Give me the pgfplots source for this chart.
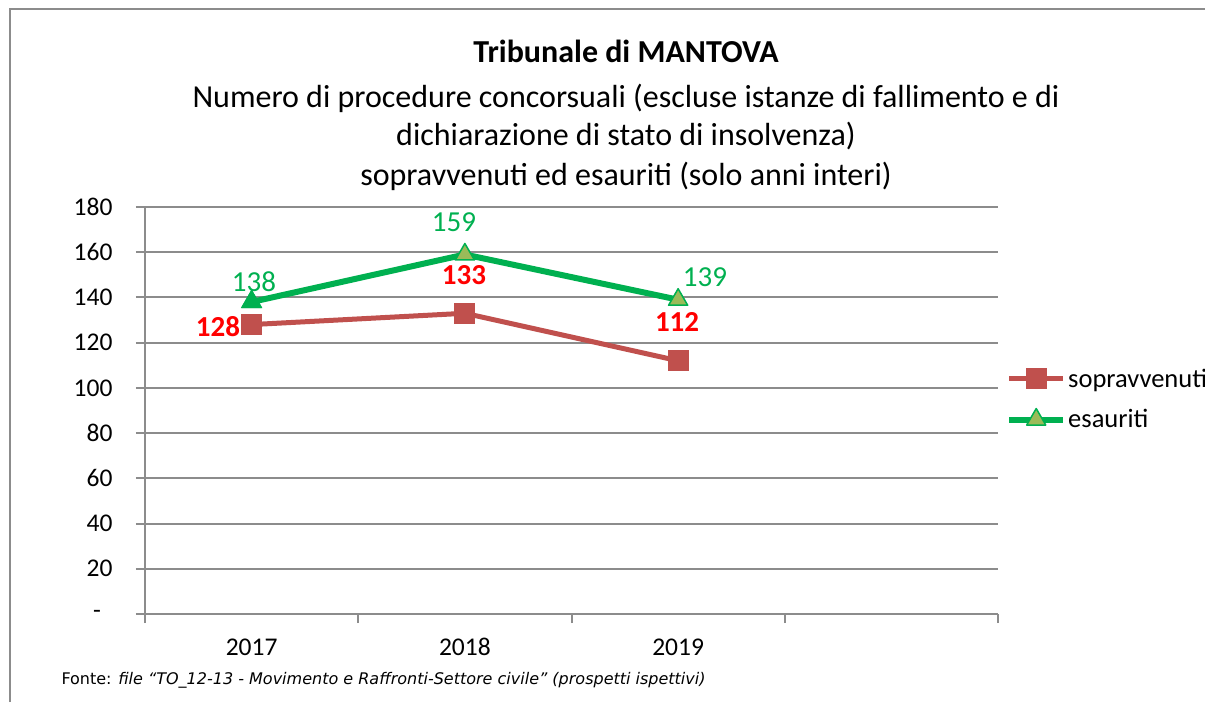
\documentclass[border=0pt]{standalone}
\usepackage{pgfplots}
\pgfplotsset{compat=1.18}
\usepackage{fontspec}
\setmainfont{Carlito}
\newfontfamily\fontefont{DejaVu Sans}
\definecolor{redS}{HTML}{C0504D}
\definecolor{greenE}{HTML}{00B050}
\definecolor{oliveE}{HTML}{9BBB59}
\definecolor{gridc}{HTML}{8C8C8C}
\definecolor{labred}{HTML}{FF0000}
\newcommand{\bigf}{\fontsize{25.5}{30}\selectfont}
\newcommand{\titf}{\fontsize{32}{38}\selectfont}
\newcommand{\labf}{\fontsize{29}{34}\selectfont}
\newcommand{\legf}{\fontsize{26.5}{32}\selectfont}
\begin{document}
\begin{tikzpicture}
\path[use as bounding box] (0pt,0pt) rectangle (1205pt,-702pt);
\draw[gridc,line width=2pt] (10pt,-702pt) -- (10pt,-9pt) -- (1205pt,-9pt);
\node[anchor=base,font=\titf\bfseries] at (626pt,-62pt) {Tribunale di MANTOVA};
\node[anchor=base,font=\titf] at (626pt,-107pt) {Numero di procedure concorsuali (escluse istanze di fallimento e di};
\node[anchor=base,font=\titf] at (626pt,-145pt) {dichiarazione di stato di insolvenza)};
\node[anchor=base,font=\titf] at (626pt,-185pt) {sopravvenuti ed esauriti (solo anni interi)};
\node[anchor=base west,font=\fontefont\fontsize{16}{19}\selectfont] at (58pt,-684pt) {Fonte: \textit{file “TO\_12-13 - Movimento e Raffronti-Settore civile” (prospetti ispettivi)}};
\begin{axis}[
  at={(145pt,-614pt)}, anchor=south west,
  width=853pt, height=407pt, scale only axis,
  xmin=-0.5, xmax=3.5, ymin=0, ymax=180,
  xtick={0,1,2}, xticklabels={2017,2018,2019},
  xtick style={draw=none},
  xticklabel style={yshift=-12pt},
  extra x ticks={-0.5,0.5,1.5,2.5,3.5}, extra x tick labels={},
  extra x tick style={xtick style={draw=gridc,line width=2pt}},
  ytick={0,20,...,180},
  yticklabels={-\ \ \ ,20,40,60,80,100,120,140,160,180},
  yticklabel style={xshift=-20pt},
  ytick style={draw=gridc,line width=2pt},
  tick align=outside, major tick length=9pt,
  axis x line*=bottom, axis y line*=left,
  axis line style={gridc,line width=2pt,-},
  ymajorgrids, major grid style={gridc,line width=2pt},
  tick label style={font=\bigf},
  clip=false,
  legend style={at={(1.0094,0.528)}, anchor=west, draw=none, fill=none,
    font=\legf, inner sep=0pt, row sep=17pt, column sep=0pt,
    nodes={inner sep=2pt}},
  legend cell align=left,
  legend image code/.code={\draw[mark repeat=2,mark phase=2,#1] plot coordinates {(0pt,0pt) (27pt,0pt) (54pt,0pt)};},
]
\addplot[redS, line width=5pt, line join=round, mark=square*, mark size=10pt,
  mark options={fill=redS, draw=redS, line width=0pt}] coordinates {(0,128) (1,133) (2,112)};
\addplot[greenE, line width=6pt, line join=round, mark=triangle*, mark size=11pt,
  mark options={fill=oliveE, draw=greenE, line width=1.5pt}] coordinates {(0,138) (1,159) (2,139)};
\addplot[forget plot, only marks, mark=triangle*, mark size=11pt,
  mark options={fill=greenE, draw=greenE, line width=1.5pt}] coordinates {(0,138)};
\legend{sopravvenuti, esauriti}
\node[font=\labf, text=greenE] at (axis cs:0.011,146.8) {138};
\node[font=\labf, text=greenE] at (axis cs:0.949,173.4) {159};
\node[font=\labf, text=greenE] at (axis cs:2.126,149) {139};
\node[font=\labf\bfseries, text=labred] at (axis cs:-0.158,126.9) {128};
\node[font=\labf\bfseries, text=labred] at (axis cs:0.996,149.9) {133};
\node[font=\labf\bfseries, text=labred] at (axis cs:1.995,129.1) {112};
\end{axis}
\end{tikzpicture}
\end{document}
